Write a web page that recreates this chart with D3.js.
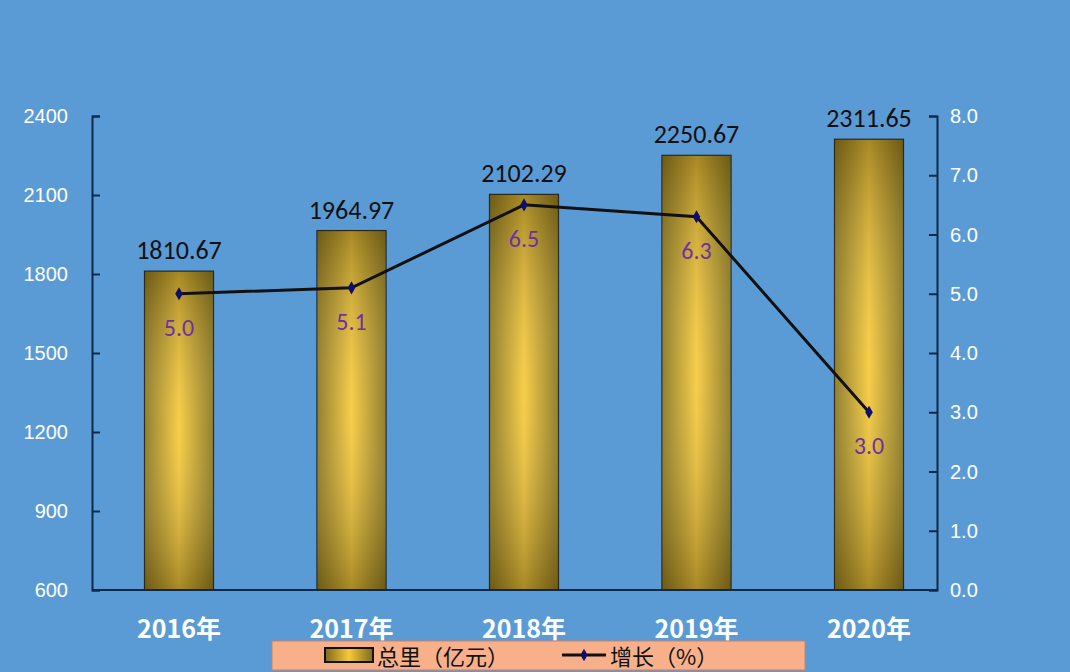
<!DOCTYPE html>
<html><head><meta charset="utf-8">
<script src="https://cdn.jsdelivr.net/npm/d3@7/dist/d3.min.js"></script>
<style>body{margin:0;background:#5b9bd5;font-family:"Noto Sans CJK SC","Noto Sans",sans-serif}</style>
</head><body><div id="chart"></div>
<script>
const years = ['2016年', '2017年', '2018年', '2019年', '2020年'];
const totals = [1810.67, 1964.97, 2102.29, 2250.67, 2311.65];
const growth = [5.0, 5.1, 6.5, 6.3, 3.0];
const leftTicks = [600, 900, 1200, 1500, 1800, 2100, 2400];
const rightTicks = [0, 1, 2, 3, 4, 5, 6, 7, 8];

const w = 1070, h = 672;
const svg = d3.select('#chart').append('svg').attr('width', w).attr('height', h);
svg.append('rect').attr('width', w).attr('height', h).attr('fill', '#5b9bd5');

const x = d3.scaleBand().domain(years).range([92.75, 955.25]).paddingInner(0.6).paddingOuter(0.3);
const yL = d3.scaleLinear().domain([600, 2400]).range([590, 116]);
const yR = d3.scaleLinear().domain([0, 8]).range([590, 116]);

const defs = svg.append('defs');
const g1 = defs.append('linearGradient').attr('id', 'barH');
g1.append('stop').attr('offset', '0%').attr('stop-color', '#7d6a1c');
g1.append('stop').attr('offset', '50%').attr('stop-color', '#f7c83a');
g1.append('stop').attr('offset', '100%').attr('stop-color', '#7d6a1c');
const g2 = defs.append('linearGradient').attr('id', 'barV').attr('x2', 0).attr('y2', 1);
g2.append('stop').attr('offset', '0%').attr('stop-color', '#5a4a10').attr('stop-opacity', 0.5);
g2.append('stop').attr('offset', '50%').attr('stop-color', '#fff3a0').attr('stop-opacity', 0.15);
g2.append('stop').attr('offset', '100%').attr('stop-color', '#5a4a10').attr('stop-opacity', 0.5);

// bars
const bars = svg.append('g').selectAll('g').data(years).join('g');
bars.append('rect')
  .attr('x', d => x(d)).attr('width', x.bandwidth())
  .attr('y', (d, i) => yL(totals[i])).attr('height', (d, i) => 590 - yL(totals[i]))
  .attr('fill', 'url(#barH)').attr('stroke', '#1a1a1a').attr('stroke-width', 1.2);
bars.append('rect')
  .attr('x', d => x(d)).attr('width', x.bandwidth())
  .attr('y', (d, i) => yL(totals[i])).attr('height', (d, i) => 590 - yL(totals[i]))
  .attr('fill', 'url(#barV)');
bars.append('text')
  .attr('x', d => x(d) + x.bandwidth() / 2).attr('y', (d, i) => yL(totals[i]) - 12)
  .attr('text-anchor', 'middle').attr('font-size', 26).attr('fill', '#111')
  .attr('font-family', 'Calibri, "Liberation Sans", sans-serif')
  .text((d, i) => totals[i].toFixed(2));

// axes
const axL = svg.append('g').attr('transform', 'translate(92,0)')
  .call(d3.axisRight(yL).tickValues(leftTicks).tickSize(8).tickFormat(''));
const axR = svg.append('g').attr('transform', 'translate(937,0)')
  .call(d3.axisLeft(yR).tickValues(rightTicks).tickSize(8).tickFormat(''));
[axL, axR].forEach(a => { a.selectAll('path,line').attr('stroke', '#0d2a4a').attr('stroke-width', 2); });
svg.append('line').attr('x1', 92).attr('x2', 937).attr('y1', 590).attr('y2', 590)
  .attr('stroke', '#0d2a4a').attr('stroke-width', 2);

svg.append('g').selectAll('text').data(leftTicks).join('text')
  .attr('x', 68).attr('y', d => yL(d) + 7).attr('text-anchor', 'end')
  .attr('font-size', 20).attr('fill', '#fff').attr('font-family', '"Liberation Sans", sans-serif')
  .text(d => d);
svg.append('g').selectAll('text').data(rightTicks).join('text')
  .attr('x', 950).attr('y', d => yR(d) + 7)
  .attr('font-size', 20).attr('fill', '#fff').attr('font-family', '"Liberation Sans", sans-serif')
  .text(d => d.toFixed(1));
svg.append('g').selectAll('text').data(years).join('text')
  .attr('x', d => x(d) + x.bandwidth() / 2).attr('y', 638).attr('text-anchor', 'middle')
  .attr('font-size', 25).attr('font-weight', 'bold').attr('fill', '#fff')
  .text(d => d);

// line
const cx = d => x(d) + x.bandwidth() / 2;
svg.append('path').datum(years)
  .attr('d', d3.line().x(cx).y((d, i) => yR(growth[i])))
  .attr('fill', 'none').attr('stroke', '#111').attr('stroke-width', 3);
svg.append('g').selectAll('path').data(years).join('path')
  .attr('transform', (d, i) => `translate(${cx(d)},${yR(growth[i])})`)
  .attr('d', d3.symbol(d3.symbolDiamond, 50)).attr('fill', '#10106a');
svg.append('g').selectAll('text').data(years).join('text')
  .attr('x', cx).attr('y', (d, i) => yR(growth[i]) + 42).attr('text-anchor', 'middle')
  .attr('font-size', 24).attr('fill', '#7030a0').attr('font-family', 'Calibri, "Liberation Sans", sans-serif')
  .text((d, i) => growth[i].toFixed(1));

// legend
const lg = svg.append('g');
lg.append('rect').attr('x', 272).attr('y', 641).attr('width', 533).attr('height', 29)
  .attr('fill', '#f8b08a').attr('stroke', '#d08060');
lg.append('rect').attr('x', 325).attr('y', 648).attr('width', 48).attr('height', 14)
  .attr('fill', 'url(#barH)').attr('stroke', '#111').attr('stroke-width', 2);
lg.append('text').attr('x', 377).attr('y', 665).attr('font-size', 22).attr('fill', '#111').text('总里（亿元）');
lg.append('line').attr('x1', 562).attr('x2', 606).attr('y1', 655).attr('y2', 655).attr('stroke', '#111').attr('stroke-width', 3);
lg.append('path').attr('transform', 'translate(584,655)').attr('d', d3.symbol(d3.symbolDiamond, 45)).attr('fill', '#10106a');
lg.append('text').attr('x', 610).attr('y', 665).attr('font-size', 22).attr('fill', '#111').text('增长（%）');
</script></body></html>
